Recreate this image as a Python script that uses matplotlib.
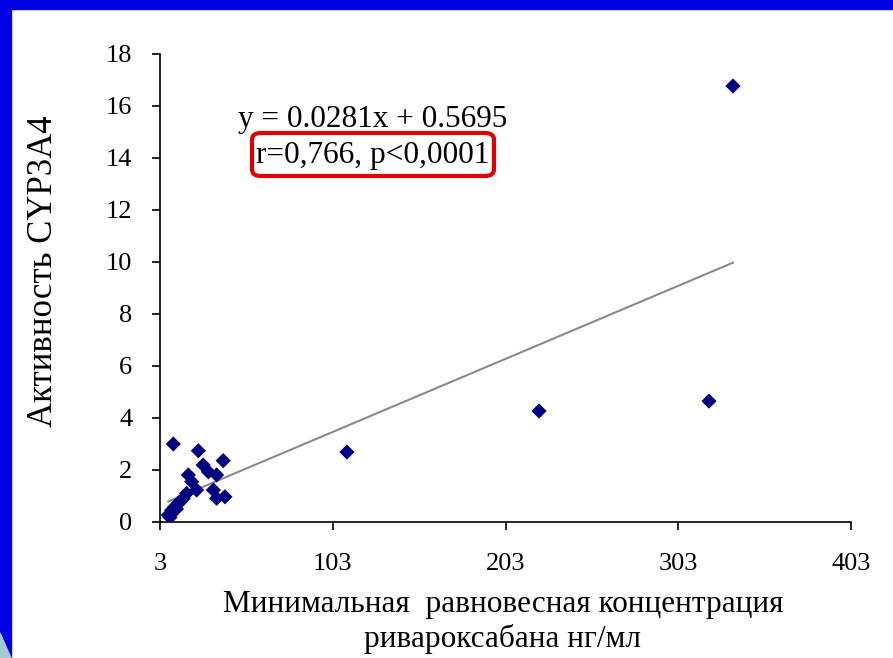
import matplotlib.pyplot as plt
from matplotlib.patches import Rectangle, FancyBboxPatch, Polygon
import numpy as np

# минимальная равновесная концентрация ривароксабана (нг/мл) и активность CYP3A4
conc = [334.7, 320.8, 222.4, 111.2,
        10.7, 25.2, 39.6, 28.0, 31.0, 35.8, 19.4, 21.3, 24.2, 33.9, 40.6, 35.8,
        7.8, 8.8, 9.8, 11.7, 13.6, 16.5, 18.4, 12.5, 15.0]
activity = [16.77, 4.65, 4.27, 2.69,
            3.0, 2.74, 2.36, 2.19, 1.93, 1.81, 1.81, 1.55, 1.23, 1.23, 0.97, 0.91,
            0.27, 0.18, 0.46, 0.59, 0.73, 0.91, 1.1, 0.5, 0.8]

slope = 0.0281
intercept = 0.5695
eq_text = 'y = 0.0281x + 0.5695'
r_text = 'r=0,766, p<0,0001'

xticks = [3, 103, 203, 303, 403]
yticks = [0, 2, 4, 6, 8, 10, 12, 14, 16, 18]

plt.rcParams['font.family'] = ['Liberation Serif', 'DejaVu Serif']

fig = plt.figure(figsize=(8.93, 6.58), dpi=100)
fig.patch.set_facecolor('white')

# синяя рамка слайда
fig.patches.append(Rectangle((0, 1 - 9 / 658), 1, 9 / 658, transform=fig.transFigure,
                             color='#0000e4', zorder=0))
fig.patches.append(Rectangle((0, 0), 11 / 893, 1, transform=fig.transFigure,
                             color='#0000e4', zorder=0))
fig.patches.append(Polygon([(0, 0), (11 / 893, 0), (0, 25 / 658)], closed=True,
                           transform=fig.transFigure, color='#a8c8d0', zorder=1))

ax = fig.add_axes([160 / 893, 1 - 522 / 658, (851 - 160) / 893, (522 - 54) / 658])
ax.set_facecolor('none')

xs = np.array([min(conc), max(conc)])
ax.plot(xs, slope * xs + intercept, color='#8a8a8a', lw=1.5, zorder=2)
ax.scatter(conc, activity, marker='D', s=60, color='#000080', edgecolors='none', zorder=3)

ax.set_xlim(3, 403)
ax.set_ylim(0, 18)
ax.set_xticks(xticks)
ax.set_yticks(yticks)
ax.spines['top'].set_visible(False)
ax.spines['right'].set_visible(False)
for s in ['left', 'bottom']:
    ax.spines[s].set_linewidth(1.2)
ax.tick_params(direction='out', length=6, width=1.2, labelsize=19)
ax.tick_params(axis='x', pad=16)
ax.tick_params(axis='y', pad=14)

ax.set_ylabel('Активность CYP3A4', fontsize=25)
ax.yaxis.set_label_coords(-0.145, 0.536)
fig.text(503 / 893, 1 - 622 / 658, 'Минимальная  равновесная концентрация\nривароксабана нг/мл',
         ha='center', va='center', fontsize=22.5, linespacing=1.2)

fig.text(373 / 893, 1 - 119 / 658, eq_text, ha='center', va='center', fontsize=22.5)
fig.text(373 / 893, 1 - 155 / 658, r_text, ha='center', va='center', fontsize=22.5)
fig.patches.append(FancyBboxPatch((252 / 893, 1 - 176 / 658), 242 / 893, 43 / 658,
                                  boxstyle='round,pad=0,rounding_size=0.01',
                                  transform=fig.transFigure, fill=False,
                                  edgecolor='#e00000', lw=3, zorder=5))

fig.savefig('out.png', dpi=100)
